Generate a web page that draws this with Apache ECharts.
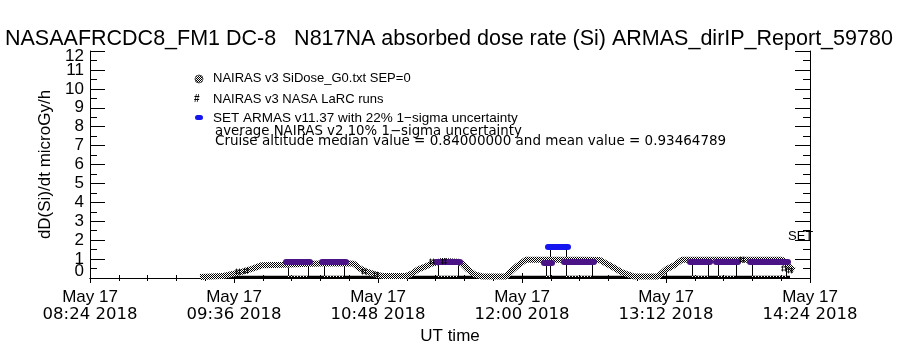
<!DOCTYPE html>
<html>
<head>
<meta charset="utf-8">
<script src="https://cdn.jsdelivr.net/npm/echarts@6/dist/echarts.min.js"></script>
<style>
  html, body { margin: 0; padding: 0; background: #fff; }
  #main { width: 900px; height: 350px; }
</style>
</head>
<body>
<div id="main"></div>
<script>
// UT times are "HH:MM" strings, doses in microGy/h
var navTimes = ['09:19', '09:30', '09:39', '09:44', '09:48', '09:50', '10:00', '10:10', '10:20', '10:32', '10:36',
  '10:39', '10:42', '10:47', '10:51', '11:02', '11:05', '11:08', '11:12', '11:15', '11:20', '11:28', '11:30',
  '11:33', '11:36', '11:40', '11:52', '11:55', '11:58', '12:02', '12:05', '12:15', '12:30', '12:39', '12:45',
  '12:50', '12:56', '13:08', '13:12', '13:16', '13:20', '13:40', '14:00', '14:10', '14:12', '14:14', '14:16'];
var navDose = [0.05, 0.1, 0.3, 0.45, 0.6, 0.68, 0.7, 0.74, 0.76, 0.78, 0.75,
  0.5, 0.35, 0.18, 0.1, 0.1, 0.24, 0.45, 0.62, 0.76, 0.9, 0.86, 0.76,
  0.45, 0.2, 0.08, 0.08, 0.4, 0.67, 0.97, 0.97, 0.97, 0.97, 0.95, 0.6,
  0.3, 0.08, 0.08, 0.45, 0.67, 0.97, 0.97, 0.97, 0.97, 0.75, 0.55, 0.4];

var larcTimes = ['09:38', '09:42', '10:41', '10:47', '11:21', '11:15', '13:50', '14:11', '14:14'];
var larcDose = [0.34, 0.38, 0.34, 0.18, 0.88, 0.87, 0.97, 0.5, 0.4];
var groundTimes = ['09:19', '14:14'];
var groundDose = [0.04, 0.04];

var setStart = ['10:02', '10:20', '11:17', '12:11', '12:21', '13:24', '13:37', '13:54'];
var setEnd = ['10:14', '10:32', '11:29', '12:15', '12:36', '13:34', '13:48', '14:13'];
var setDose = [0.85, 0.85, 0.85, 0.82, 0.85, 0.85, 0.85, 0.85];

var peakStart = ['12:13'];
var peakEnd = ['12:23'];
var peakDose = [1.67];

var xTicks = ['08:24', '09:36', '10:48', '12:00', '13:12', '14:24'];
var yTicks = [0, 1, 2, 3, 4, 5, 6, 7, 8, 9, 10, 11, 12];

function mins(s) {
  var p = s.split(':');
  return (+p[0]) * 60 + (+p[1]);
}
function hhmm(m) {
  var h = Math.floor(m / 60), mm = Math.round(m % 60);
  return (h < 10 ? '0' : '') + h + ':' + (mm < 10 ? '0' : '') + mm;
}

// dithered black/white pattern, like the IDL grey band
var pat = document.createElement('canvas');
pat.width = 2; pat.height = 2;
var pc = pat.getContext('2d');
pc.fillStyle = '#fff'; pc.fillRect(0, 0, 2, 2);
pc.fillStyle = '#000'; pc.fillRect(0, 0, 1, 1); pc.fillRect(1, 1, 1, 1);
var dither = { image: pat, repeat: 'repeat' };

var FONT = 'Liberation Sans, Arial, sans-serif';
var WIDE = 'DejaVu Sans, Verdana, sans-serif';
var xMin = mins(xTicks[0]), xMax = mins(xTicks[xTicks.length - 1]);
var yMin = yTicks[0], yMax = yTicks[yTicks.length - 1];

var navData = navTimes.map(function (t, i) { return [mins(t), navDose[i]]; });
var larcData = larcTimes.map(function (t, i) { return [mins(t), larcDose[i]]; });
var groundData = groundTimes.map(function (t, i) { return [mins(t), groundDose[i]]; });

var setBars = [], boxLines = [], boxFloor = [];
setStart.forEach(function (t, i) {
  var a = mins(t), b = mins(setEnd[i]), v = setDose[i];
  setBars.push({ coords: [[a, v], [b, v]] });
  boxLines.push({ coords: [[a + 1, v], [a + 1, 0.08]] });
  boxLines.push({ coords: [[b - 1, v], [b - 1, 0.08]] });
  boxFloor.push({ coords: [[a + 1, 0.08], [b - 1, 0.08]] });
});
var peakBars = [];
peakStart.forEach(function (t, i) {
  var a = mins(t), b = mins(peakEnd[i]), v = peakDose[i];
  peakBars.push({ coords: [[a, v], [b, v]] });
  boxLines.push({ coords: [[a + 1, v], [a + 1, 0.08]] });
  boxLines.push({ coords: [[b - 1, v], [b - 1, 0.08]] });
});

var myChart = echarts.init(document.getElementById('main'));

var axisLine = { show: true, lineStyle: { color: '#000', width: 1 } };

var option = {
  backgroundColor: '#fff',
  animation: false,
  textStyle: { fontFamily: FONT, color: '#000' },
  title: {
    text: 'NASAAFRCDC8_FM1 DC-8   N817NA absorbed dose rate (Si) ARMAS_dirIP_Report_59780',
    left: 0, top: 23,
    textStyle: { fontFamily: FONT, fontSize: 21.5, fontWeight: 'normal', color: '#000' }
  },
  grid: { left: 90, right: 90, top: 51, bottom: 70, containLabel: false },
  xAxis: [{
    type: 'value', min: xMin, max: xMax, interval: 72, position: 'bottom',
    axisLine: axisLine,
    axisTick: { show: true, inside: true, length: 5, lineStyle: { color: '#000' } },
    minorTick: { show: true, splitNumber: 5, length: 3, lineStyle: { color: '#000' } },
    splitLine: { show: false },
    axisLabel: {
      margin: 11, color: '#000',
      formatter: function (v) { return '{a|May 17}\n{b|' + hhmm(v) + ' 2018}'; },
      rich: {
        a: { fontSize: 17, lineHeight: 17, fontFamily: FONT, color: '#000' },
        b: { fontSize: 16.5, lineHeight: 17, fontFamily: WIDE, color: '#000' }
      }
    },
    name: 'UT time', nameLocation: 'middle', nameGap: 50,
    nameTextStyle: { fontSize: 17, color: '#000', fontFamily: FONT }
  }, {
    type: 'value', min: xMin, max: xMax, interval: 72, position: 'top',
    axisLine: axisLine,
    axisTick: { show: true, inside: true, length: 5, lineStyle: { color: '#000' } },
    minorTick: { show: true, splitNumber: 5, length: 3, lineStyle: { color: '#000' } },
    splitLine: { show: false },
    axisLabel: { show: false }
  }],
  yAxis: [{
    type: 'value', min: yMin, max: yMax, interval: 1, position: 'left',
    axisLine: axisLine,
    axisTick: { show: true, inside: true, length: 15, lineStyle: { color: '#000' } },
    minorTick: { show: true, splitNumber: 2, length: 7, lineStyle: { color: '#000' } },
    splitLine: { show: false },
    axisLabel: {
      margin: 6, fontSize: 17, color: '#000', fontFamily: FONT,
      showMinLabel: true, showMaxLabel: true,
      // end labels are drawn by the helper axis below, nudged inside like IDL
      formatter: function (v) { return (v === yMin || v === yMax) ? '' : String(v); }
    },
    name: 'dD(Si)/dt microGy/h', nameLocation: 'middle', nameGap: 36, nameRotate: 90,
    nameTextStyle: { fontSize: 17, color: '#000', fontFamily: FONT }
  }, {
    type: 'value', min: yMin, max: yMax, interval: 1, position: 'right',
    axisLine: axisLine,
    axisTick: { show: true, inside: true, length: 15, lineStyle: { color: '#000' } },
    minorTick: { show: true, splitNumber: 2, length: 7, lineStyle: { color: '#000' } },
    splitLine: { show: false },
    axisLabel: { show: false }
  }, {
    type: 'value', min: yMin, max: yMax, interval: 1, position: 'left', offset: 0,
    axisLine: { show: false }, axisTick: { show: false }, splitLine: { show: false },
    axisLabel: {
      margin: 6, color: '#000', showMinLabel: true, showMaxLabel: true,
      formatter: function (v) {
        if (v === yMin) return '{lo|' + v + '}';
        if (v === yMax) return '{hi|' + v + '}';
        return '';
      },
      rich: {
        lo: { fontSize: 17, fontFamily: FONT, color: '#000', padding: [0, 0, 13, 0] },
        hi: { fontSize: 17, fontFamily: FONT, color: '#000', padding: [10, 0, 0, 0] }
      }
    }
  }],
  graphic: [
    { type: 'circle', shape: { cx: 199, cy: 79, r: 4 }, style: { fill: dither, stroke: '#555' } },
    { type: 'text', left: 213, top: 72, style: { text: 'NAIRAS v3 SiDose_G0.txt SEP=0', font: '13px ' + FONT, fill: '#000' } },
    { type: 'text', left: 194, top: 94, style: { text: '#', font: 'bold 10px ' + FONT, fill: '#000' } },
    { type: 'text', left: 213, top: 93, style: { text: 'NAIRAS v3 NASA LaRC runs', font: '13px ' + FONT, fill: '#000' } },
    { type: 'rect', shape: { x: 195, y: 115, width: 8, height: 5, r: 2.5 }, style: { fill: '#1515f0' } },
    { type: 'text', left: 213, top: 111, style: { text: 'SET ARMAS v11.37 with 22% 1\u2212sigma uncertainty', font: '13.5px ' + FONT, fill: '#000' } },
    { type: 'text', left: 215, top: 125, style: { text: 'average NAIRAS v2 10% 1\u2212sigma uncertainty', font: '13.3px ' + WIDE, fill: '#000' } },
    { type: 'text', left: 215, top: 134, style: { text: 'Cruise altitude median value = 0.84000000 and mean value = 0.93464789', font: '13.5px ' + WIDE, fill: '#000' } },
    { type: 'text', left: 788, top: 230, style: { text: 'SET', font: '13px ' + FONT, fill: '#000' } }
  ],
  series: [
    {
      name: 'ground', type: 'line', data: groundData, showSymbol: false, silent: true,
      lineStyle: { color: '#000', width: 3 }, z: 1
    },
    {
      name: 'box', type: 'lines', coordinateSystem: 'cartesian2d', data: boxLines, silent: true,
      lineStyle: { color: '#000', width: 1, opacity: 1 }, z: 2
    },
    {
      name: 'boxFloor', type: 'lines', coordinateSystem: 'cartesian2d', data: boxFloor, silent: true,
      lineStyle: { color: '#fff', width: 1, type: [1, 2], opacity: 1 }, z: 2
    },
    {
      name: 'NAIRAS v3 SiDose_G0.txt SEP=0', type: 'line', data: navData, showSymbol: false, silent: true,
      lineStyle: { color: dither, width: 6 }, z: 3
    },
    {
      name: 'SET ARMAS cruise', type: 'lines', coordinateSystem: 'cartesian2d', data: setBars, silent: true,
      lineStyle: { color: '#4a1486', width: 6, cap: 'round', opacity: 1 }, z: 4
    },
    {
      name: 'SET ARMAS v11.37', type: 'lines', coordinateSystem: 'cartesian2d', data: peakBars, silent: true,
      lineStyle: { color: '#1515f0', width: 6, cap: 'round', opacity: 1 }, z: 4
    },
    {
      name: 'NAIRAS v3 NASA LaRC runs', type: 'scatter', data: larcData, silent: true,
      symbol: 'path://M2,0L2,8M6,0L6,8M0,2L8,2M0,6L8,6', symbolSize: 6,
      itemStyle: { color: 'none', borderColor: '#000', borderWidth: 1 }, z: 5
    }
  ]
};

myChart.setOption(option);
</script>
</body>
</html>
